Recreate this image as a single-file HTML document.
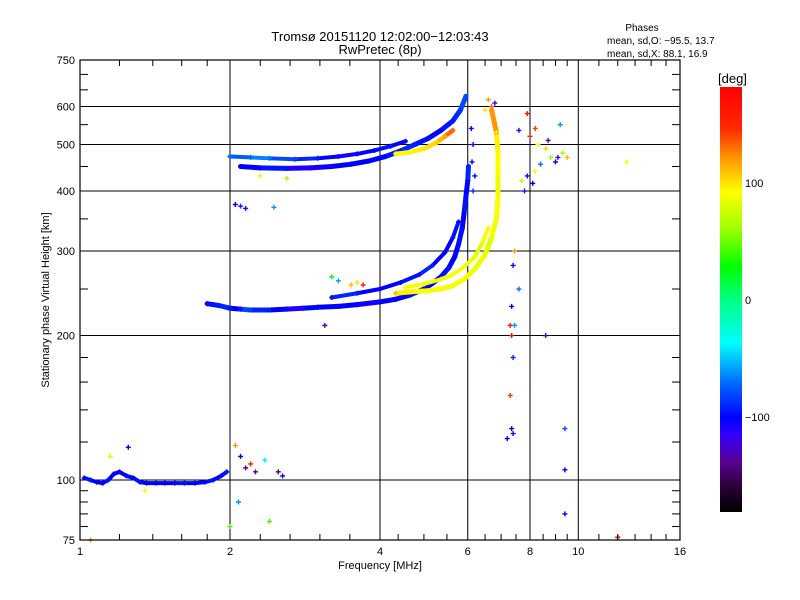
<!DOCTYPE html>
<html><head><meta charset="utf-8">
<style>
body{margin:0;background:#fff;}
svg{display:block;font-family:"Liberation Sans",sans-serif;}
</style></head>
<body>
<svg id="chart" width="800" height="600" viewBox="0 0 800 600">
<rect width="800" height="600" fill="#fff"/>
<text x="380" y="41" font-size="13" text-anchor="middle">Tromsø 20151120 12:02:00−12:03:43</text>
<text x="380" y="54" font-size="13" text-anchor="middle">RwPretec (8p)</text>
<text x="642" y="31" font-size="10" text-anchor="middle">Phases</text>
<text x="607" y="44" font-size="10">mean, sd,O: −95.5, 13.7</text>
<text x="607" y="57" font-size="10">mean, sd,X:  88.1, 16.9</text>
<g id="grid"></g>
<g id="marks"></g>
<g id="axes"></g>
<text x="380" y="569" font-size="11" text-anchor="middle">Frequency [MHz]</text>
<text transform="translate(49,300) rotate(-90)" font-size="11" text-anchor="middle">Stationary phase Virtual Height [km]</text>
<defs><linearGradient id="cbg" x1="0" y1="1" x2="0" y2="0"></linearGradient></defs>
<rect x="720" y="87" width="22" height="425" fill="url(#cbg)"/>
<text x="718" y="83" font-size="13">[deg]</text>
<g id="cbticks"></g>
</svg>
<script>
const xTicks=[1,2,4,6,8,10,16];
const xMinor=[1.2,1.4,1.6,1.8,2.3,2.64,3.03,3.48,4.35,4.9,5.45,6.5,7,7.5,8.5,9,9.5,11,12,13,14,15];
const yTicks=[75,100,200,300,400,500,600,750];
const yMinor=[80,85,90,95,120,140,160,180,250,350,450,550,650,700];
const yGrid=[100,200,300,400,500,600];
const xGrid=[2,4,6,8,10];
const cbTicks=[100,0,-100];

const oLowF=[1.8,1.9,2.0,2.1,2.2,2.4,2.6,2.8,3.0,3.3,3.6,4.0,4.3,4.6,4.9,5.1,5.3,5.5,5.65,5.75,5.85,5.9,5.95,6.0,6.02];
const oLowH=[233,231,228,227,226,226,227,228,229,230,232,235,238,243,250,257,265,277,292,310,335,360,390,420,450];
const oLowP=[-100,-95,-90,-100,-80,-90,-100,-110,-100,-100,-100,-105,-100,-100,-95,-100,-100,-95,-100,-100,-95,-100,-95,-100,-90];
const oLow2F=[3.2,3.6,4.0,4.4,4.8,5.1,5.4,5.6,5.75];
const oLow2H=[240,245,250,258,268,280,298,320,345];
const oLow2P=[-95,-90,-100,-100,-95,-90,-100,-100,-95];
const xLowF=[4.3,4.7,5.0,5.3,5.6,5.9,6.2,6.5,6.7,6.85,6.9,6.9,6.9,6.85,6.7];
const xLowH=[245,247,248,250,254,262,275,295,320,350,390,430,480,530,590];
const xLowP=[110,95,90,88,85,90,88,85,80,88,90,85,90,95,120];
const xLow2F=[4.5,4.9,5.3,5.6,5.9,6.2,6.4,6.6];
const xLow2H=[252,256,262,268,278,292,310,335];
const xLow2P=[90,88,85,90,88,85,80,90];
const oUpF=[2.1,2.3,2.6,2.9,3.2,3.5,3.8,4.1,4.4,4.7,5.0,5.3,5.6,5.8,5.95];
const oUpH=[450,447,446,447,450,455,462,472,485,500,515,535,560,590,630];
const oUpP=[-100,-100,-95,-110,-105,-100,-100,-100,-95,-90,-95,-100,-95,-90,-80];
const oUp2F=[2.0,2.2,2.4,2.7,3.0,3.3,3.6,3.9,4.2,4.5];
const oUp2H=[472,470,468,466,468,472,478,486,496,508];
const oUp2P=[-70,-75,-65,-80,-90,-100,-105,-100,-95,-100];
const xUpF=[4.3,4.6,4.9,5.2,5.4,5.6];
const xUpH=[478,482,490,505,520,535];
const xUpP=[90,92,95,100,110,130];
const eF=[1.02,1.05,1.08,1.11,1.14,1.17,1.2,1.24,1.28,1.32,1.36,1.42,1.48,1.55,1.62,1.7,1.78,1.85,1.92,1.97];
const eH=[101,100,99,98.5,100,103,104,102,101,99,98.5,98.5,98.5,98.5,98.5,98.5,99,100,102,104];
const eP=[-100,-95,-100,-100,-95,-100,-100,-100,-100,-95,-100,-100,-100,-100,-95,-100,-100,-95,-100,-95];
const sF=[2.05,2.1,2.15,2.45,7.35,7.3,7.35,7.4,7.3,7.35,7.4,7.2,7.45,7.4,7.6,7.45,9.4,9.4,9.4,12.0,8.6,8.0,8.3,8.6,8.8,9.0,9.3,9.5,8.2,7.9,8.1,7.7,7.8,8.4,9.2,8.2,7.9,7.6,8.7,9.1,12.5,6.6,6.7,6.5,6.8,2.05,2.1,2.15,2.2,2.25,2.35,2.5,2.55,2.08,2.0,2.4,1.35,1.15,1.25,1.05,3.7,3.6,3.5,3.2,3.3,3.1,6.1,6.15,6.12,6.2,6.15,2.3,2.6];
const sH=[375,372,368,370,230,210,200,180,150,128,125,122,210,280,250,300,105,85,128,76,200,520,500,490,470,460,480,470,440,430,415,420,400,455,550,540,580,535,510,470,460,620,600,590,610,118,112,106,108,104,110,104,102,90,80,82,95,112,117,75,255,258,255,265,260,210,540,500,460,430,400,430,425];
const sP=[-100,-90,-110,-60,-100,160,170,-90,140,-100,-110,-100,-60,-100,-70,120,-100,-100,-80,170,-130,150,90,100,60,-100,60,110,90,-110,-100,70,-120,-70,-60,140,170,-110,-130,-120,90,120,130,100,-120,120,-100,-130,150,-140,-40,-140,-100,-60,40,40,90,80,-100,120,160,100,110,20,-60,-130,-100,-95,-100,-100,-90,95,60];

const cStops=[[-180,[0,0,0]],[-160,[40,0,50]],[-137,[90,0,150]],[-115,[50,0,255]],[-100,[0,0,255]],[-70,[0,110,255]],[-37,[0,255,255]],[0,[0,255,130]],[28,[0,255,0]],[60,[160,255,0]],[91,[255,255,0]],[120,[255,150,0]],[145,[255,40,0]],[180,[255,0,0]]];
function col(p){
  for(let i=1;i<cStops.length;i++){
    if(p<=cStops[i][0]){const a=cStops[i-1],b=cStops[i];const t=(p-a[0])/(b[0]-a[0]);
      const c=a[1].map((v,k)=>Math.round(v+(b[1][k]-v)*t));return `rgb(${c[0]},${c[1]},${c[2]})`;}
  }
  return 'rgb(255,0,0)';
}
const L=80,R=680,T=60,B=540;
const xs=f=>L+150*Math.log2(f);
const ys=h=>B-480*Math.log10(h/75);
const NS='http://www.w3.org/2000/svg';
function mk(tag,attrs,parent){const e=document.createElementNS(NS,tag);for(const k in attrs)e.setAttribute(k,attrs[k]);parent.appendChild(e);return e;}
const grid=document.getElementById('grid'),axes=document.getElementById('axes'),marks=document.getElementById('marks');
yGrid.forEach(h=>{const l=mk('line',{x1:L,x2:R,y1:ys(h),y2:ys(h),stroke:'#000','stroke-width':1},grid);

});
xGrid.forEach(f=>{const l=mk('line',{x1:xs(f),x2:xs(f),y1:T,y2:B,stroke:'#000','stroke-width':1},grid);

});
const fr=mk('rect',{x:L,y:T,width:R-L,height:B-T,fill:'none',stroke:'#000','stroke-width':1.2},axes);


xMinor.forEach(f=>{const x=xs(f);
mk('line',{x1:x,x2:x,y1:B,y2:B-6,stroke:'#000'},axes);mk('line',{x1:x,x2:x,y1:T,y2:T+6,stroke:'#000'},axes);});
yMinor.forEach(h=>{const y=ys(h);
mk('line',{x1:L,x2:L+8,y1:y,y2:y,stroke:'#000'},axes);mk('line',{x1:R,x2:R-8,y1:y,y2:y,stroke:'#000'},axes);});
xTicks.forEach(f=>{const t=mk('text',{x:xs(f),y:555,'font-size':11,'text-anchor':'middle'},axes);t.textContent=f;

});
yTicks.forEach(h=>{const t=mk('text',{x:75,y:ys(h)+4,'font-size':11,'text-anchor':'end'},axes);t.textContent=h;

});
function cross(f,h,p){const x=xs(f),y=ys(h),c=col(p);
 const g=mk('path',{d:`M${x-2.5},${y}h5M${x},${y-2.5}v5`,stroke:c,'stroke-width':1.4,fill:'none'},marks);
 
 }
function trace(F,H,P,name,w){
 for(let i=1;i<F.length;i++){
  const l=mk('line',{x1:xs(F[i-1]),y1:ys(H[i-1]),x2:xs(F[i]),y2:ys(H[i]),stroke:col(P[i]),'stroke-width':w,'stroke-linecap':'round'},marks);
  
  
 }
 F.forEach((f,i)=>cross(f,H[i],P[i]));
}
trace(eF,eH,eP,'e-layer-trace',4);
trace(oLowF,oLowH,oLowP,'o-mode-trace',5);
trace(oLow2F,oLow2H,oLow2P,'o-mode-trace-upper-strand',4);
trace(xLowF,xLowH,xLowP,'x-mode-trace',5);
trace(xLow2F,xLow2H,xLow2P,'x-mode-trace-upper-strand',4);
trace(oUpF,oUpH,oUpP,'o-mode-multihop-trace',5);
trace(oUp2F,oUp2H,oUp2P,'o-mode-multihop-upper-strand',4);
trace(xUpF,xUpH,xUpP,'x-mode-multihop-trace',4.5);
sF.forEach((f,i)=>cross(f,sH[i],sP[i]));
const grad=document.getElementById('cbg');
cStops.forEach(s=>{mk('stop',{offset:((s[0]+180)/360).toFixed(3),'stop-color':col(s[0])},grad);});
const cbs=p=>300-1.17*p;
const cbt=document.getElementById('cbticks');
cbTicks.forEach(p=>{const t=mk('text',{x:745,y:cbs(p)+4,'font-size':11},cbt);t.textContent=p<0?'−'+(-p):p;

});
</script>
</body></html>
